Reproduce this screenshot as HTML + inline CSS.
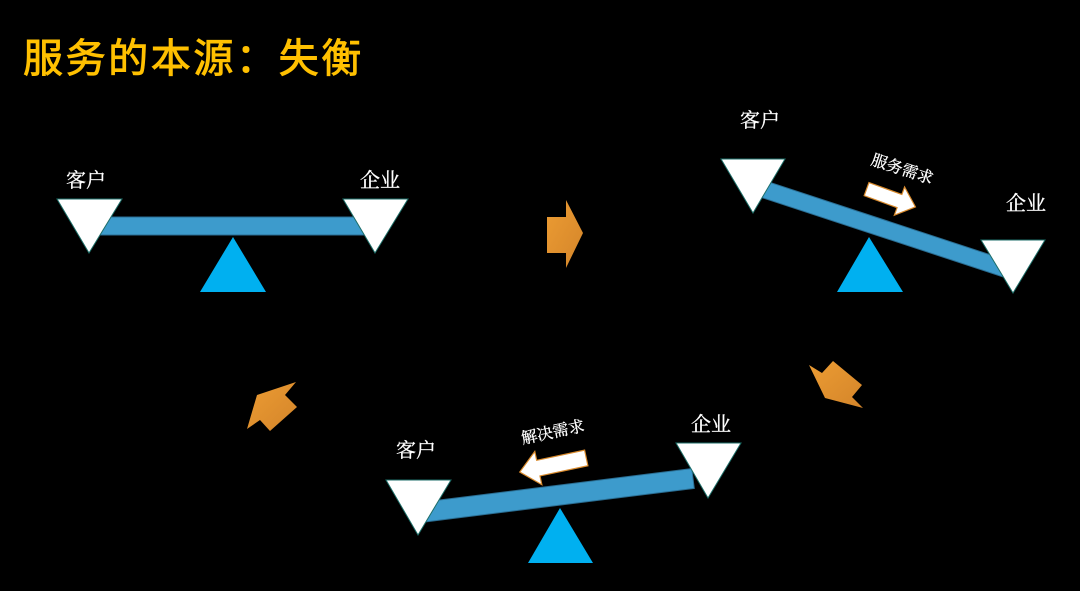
<!DOCTYPE html>
<html><head><meta charset="utf-8"><style>
html,body{margin:0;padding:0;background:#000;width:1080px;height:591px;overflow:hidden}
svg{display:block}
.t{font-family:"Liberation Serif","Noto Serif CJK SC",serif;fill:#fff;font-size:20px;text-anchor:middle;dominant-baseline:central;stroke:#fff;stroke-width:0.3}
</style></head><body>
<svg width="1080" height="591" viewBox="0 0 1080 591" xmlns="http://www.w3.org/2000/svg">
<defs>
<linearGradient id="og" x1="0" y1="0" x2="1" y2="1">
<stop offset="0" stop-color="#EC9C33"/><stop offset="1" stop-color="#D4852A"/>
</linearGradient>
</defs>
<rect width="1080" height="591" fill="#000"/>
<text x="23" y="59" font-family="'Liberation Sans','Noto Sans CJK SC',sans-serif" font-size="40" letter-spacing="2.6" fill="#FFC000" stroke="#FFC000" stroke-width="0.9" dominant-baseline="central">服务的本源：失衡</text>

<!-- Seesaw 1 -->
<rect x="95" y="217" width="280" height="18" fill="#3D9BCC" stroke="#2A6D92" stroke-width="1"/>
<polygon points="200,292 233,237 266,292" fill="#00B0F0"/>
<polygon points="57,199 122,199 89,253" fill="#fff" stroke="#1D6E68" stroke-width="1"/>
<polygon points="343,199 408,199 375,253" fill="#fff" stroke="#1D6E68" stroke-width="1"/>
<text class="t" x="86" y="181">客户</text>
<text class="t" x="380" y="181">企业</text>

<!-- arrow 1 -->
<polygon points="547,217 566,217 566,200 583,233 566,268 566,253 547,253" fill="url(#og)"/>

<!-- Seesaw 2 -->
<g transform="translate(766,190) rotate(18.2)">
<rect x="-20" y="-8.5" width="275" height="17" fill="#3D9BCC" stroke="#2A6D92" stroke-width="1"/>
</g>
<polygon points="837,292 869,237 903,292" fill="#00B0F0"/>
<polygon points="721,159 785,159 753,213" fill="#fff" stroke="#1D6E68" stroke-width="1"/>
<polygon points="981,240 1045,240 1013,293" fill="#fff" stroke="#1D6E68" stroke-width="1"/>
<text class="t" x="760" y="121">客户</text>
<text class="t" x="1026" y="204">企业</text>
<text class="t" transform="translate(902,170) rotate(18)" x="0" y="0" style="font-size:16px">服务需求</text>
<g transform="translate(891,198) rotate(20)">
<polygon points="-26,-7 9,-7 9,-15 26,0 9,15 9,7 -26,7" fill="#fff" stroke="#D98A2C" stroke-width="1.2"/>
</g>

<!-- arrow 2 -->
<polygon points="809,365 822,373 833,361 862,385 852,397 863,408 825,398" fill="url(#og)"/>

<!-- arrow 3 -->
<polygon points="257,395 296,382 285,395 297,407 270,431 260,420 247,429" fill="url(#og)"/>

<!-- Seesaw 3 -->
<g transform="translate(440,510) rotate(-7.1)">
<rect x="-20" y="-10" width="275" height="20" fill="#3D9BCC" stroke="#2A6D92" stroke-width="1"/>
</g>
<polygon points="528,563 560,508 593,563" fill="#00B0F0"/>
<polygon points="386,480 451,480 418,535" fill="#fff" stroke="#1D6E68" stroke-width="1"/>
<polygon points="676,443 741,443 708,498" fill="#fff" stroke="#1D6E68" stroke-width="1"/>
<text class="t" x="416" y="451">客户</text>
<text class="t" x="711" y="425">企业</text>
<text class="t" transform="translate(553,433) rotate(-12)" x="0" y="0" style="font-size:16px">解决需求</text>
<g transform="translate(553,465) rotate(-12)">
<polygon points="34,-8 -15,-8 -15,-17 -34,0 -15,17 -15,8 34,8" fill="#fff" stroke="#D98A2C" stroke-width="1.2"/>
</g>
</svg>
</body></html>
